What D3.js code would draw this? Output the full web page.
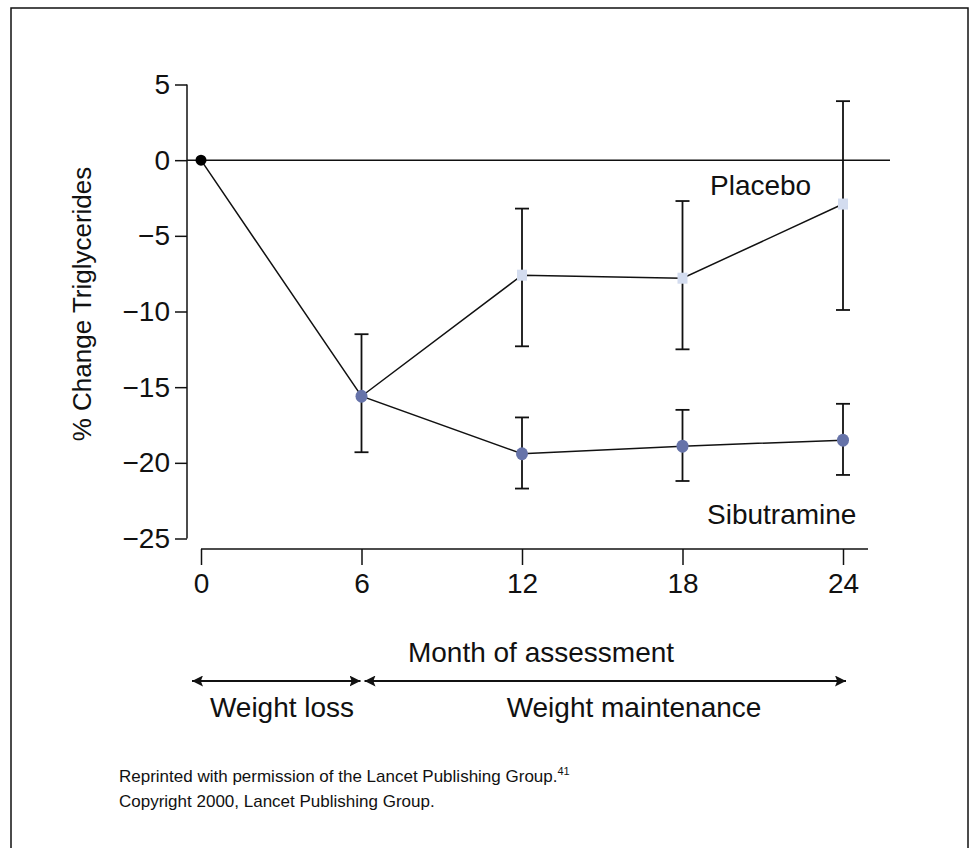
<!DOCTYPE html>
<html>
<head>
<meta charset="utf-8">
<script src="https://cdn.jsdelivr.net/npm/d3@7"></script>
<style>
  body { margin: 0; background: #fff; }
  text { font-family: "Liberation Sans", Arial, sans-serif; fill: #111; }
</style>
</head>
<body>
<svg id="chart"></svg>
<script>
// values
var monthTicks = [0, 6, 12, 18, 24];
var yTicks = [5, 0, -5, -10, -15, -20, -25];

var sibMonths = [0, 6, 12, 18, 24];
var sibMean = [0, -15.6, -19.4, -18.9, -18.5];
var sibLow = [null, -19.3, -21.7, -21.2, -20.8];
var sibHigh = [null, -11.5, -17.0, -16.5, -16.1];

var placeboMonths = [6, 12, 18, 24];
var placeboMean = [-15.6, -7.6, -7.8, -2.9];
var placeboLow = [null, -12.3, -12.5, -9.9];
var placeboHigh = [null, -3.2, -2.7, 3.9];

var phaseNames = ["Weight loss", "Weight maintenance"];
var phaseStart = [0, 6];
var phaseEnd = [6, 24];

var svg = d3.select("#chart")
    .attr("width", 971)
    .attr("height", 848);

// outer frame
svg.append("rect")
    .attr("x", 11).attr("y", 8)
    .attr("width", 957).attr("height", 860)
    .attr("fill", "none")
    .attr("stroke", "#111")
    .attr("stroke-width", 1.5);

var x = d3.scaleLinear().domain([0, 24]).range([201, 843]);
var y = d3.scaleLinear().domain([-25, 5]).range([538.5, 84.5]);

// y axis
var yAxis = svg.append("g")
    .attr("transform", "translate(187,0)")
    .call(d3.axisLeft(y).tickValues(yTicks).tickSize(12).tickPadding(5)
        .tickFormat(function (d) { return d < 0 ? "\u2212" + Math.abs(d) : d; }));
yAxis.select(".domain").attr("d", "M0," + y(5) + "V" + y(-25)).attr("stroke", "#111").attr("stroke-width", 1.5);
yAxis.selectAll(".tick line").attr("stroke", "#111").attr("stroke-width", 1.5);
yAxis.selectAll(".tick text").attr("font-size", 28).attr("font-family", null).attr("fill", "#111");

// x axis
var xAxis = svg.append("g")
    .attr("transform", "translate(0,549)")
    .call(d3.axisBottom(x).tickValues(monthTicks).tickSize(16).tickPadding(8));
xAxis.select(".domain").attr("d", "M" + x(0) + ",0H868").attr("stroke", "#111").attr("stroke-width", 1.5);
xAxis.selectAll(".tick line").attr("stroke", "#111").attr("stroke-width", 1.5);
xAxis.selectAll(".tick text").attr("font-size", 28).attr("font-family", null).attr("fill", "#111");

// zero line
svg.append("line")
    .attr("x1", 187).attr("x2", 890)
    .attr("y1", y(0)).attr("y2", y(0))
    .attr("stroke", "#111").attr("stroke-width", 1.5);

// axis titles
svg.append("text")
    .attr("transform", "translate(91,304) rotate(-90)")
    .attr("text-anchor", "middle")
    .attr("font-size", 26)
    .text("% Change Triglycerides");

svg.append("text")
    .attr("x", 541)
    .attr("y", 662)
    .attr("text-anchor", "middle")
    .attr("font-size", 28)
    .text("Month of assessment");

var sib = sibMonths.map(function (m, i) { return { m: m, v: sibMean[i], lo: sibLow[i], hi: sibHigh[i] }; });
var pla = placeboMonths.map(function (m, i) { return { m: m, v: placeboMean[i], lo: placeboLow[i], hi: placeboHigh[i] }; });

var line = d3.line()
    .x(function (d) { return x(d.m); })
    .y(function (d) { return y(d.v); });

svg.append("path").datum(sib)
    .attr("d", line).attr("fill", "none").attr("stroke", "#111").attr("stroke-width", 1.5);
svg.append("path").datum(pla)
    .attr("d", line).attr("fill", "none").attr("stroke", "#111").attr("stroke-width", 1.5);

// error bars
var bars = sib.concat(pla).filter(function (d) { return d.lo !== null; });
var eb = svg.append("g").attr("stroke", "#111").attr("stroke-width", 1.8);
eb.selectAll(".stem").data(bars).enter().append("line")
    .attr("x1", function (d) { return x(d.m); })
    .attr("x2", function (d) { return x(d.m); })
    .attr("y1", function (d) { return y(d.lo); })
    .attr("y2", function (d) { return y(d.hi); });
eb.selectAll(".capLo").data(bars).enter().append("line")
    .attr("x1", function (d) { return x(d.m) - 7; })
    .attr("x2", function (d) { return x(d.m) + 7; })
    .attr("y1", function (d) { return y(d.lo); })
    .attr("y2", function (d) { return y(d.lo); });
eb.selectAll(".capHi").data(bars).enter().append("line")
    .attr("x1", function (d) { return x(d.m) - 7; })
    .attr("x2", function (d) { return x(d.m) + 7; })
    .attr("y1", function (d) { return y(d.hi); })
    .attr("y2", function (d) { return y(d.hi); });

// markers
svg.selectAll(".pla").data(pla.slice(1)).enter().append("rect")
    .attr("x", function (d) { return x(d.m) - 5; })
    .attr("y", function (d) { return y(d.v) - 5.5; })
    .attr("width", 10).attr("height", 11)
    .attr("fill", "#d3dcef");

svg.selectAll(".sib").data(sib.slice(1)).enter().append("ellipse")
    .attr("cx", function (d) { return x(d.m); })
    .attr("cy", function (d) { return y(d.v); })
    .attr("rx", 6).attr("ry", 6.5)
    .attr("fill", "#6673a9");

svg.append("circle")
    .attr("cx", x(sib[0].m)).attr("cy", y(sib[0].v))
    .attr("r", 5.5).attr("fill", "#000");

// series labels
svg.append("text").attr("x", 710).attr("y", 195).attr("font-size", 28).text("Placebo");
svg.append("text").attr("x", 707).attr("y", 524).attr("font-size", 28).text("Sibutramine");

// phase arrows
var defs = svg.append("defs");
defs.append("marker").attr("id", "ah")
    .attr("viewBox", "0 0 10 10").attr("refX", 10).attr("refY", 5)
    .attr("markerWidth", 11).attr("markerHeight", 11)
    .attr("markerUnits", "userSpaceOnUse")
    .attr("orient", "auto-start-reverse")
    .append("path").attr("d", "M0,0L10,5L0,10L2,5Z").attr("fill", "#111");

var labelX = [282, 634];
phaseNames.forEach(function (name, i) {
    var x1 = x(phaseStart[i]) + (i === 0 ? -9 : 3);
    var x2 = x(phaseEnd[i]) + (i === 0 ? -1 : 3);
    svg.append("line")
        .attr("x1", x1).attr("x2", x2)
        .attr("y1", 681).attr("y2", 681)
        .attr("stroke", "#111").attr("stroke-width", 1.8)
        .attr("marker-start", "url(#ah)").attr("marker-end", "url(#ah)");
    svg.append("text")
        .attr("x", labelX[i])
        .attr("y", 717)
        .attr("text-anchor", "middle")
        .attr("font-size", 28)
        .text(name);
});

// source note
var note = svg.append("text").attr("x", 119).attr("y", 782).attr("font-size", 17);
note.append("tspan").text("Reprinted with permission of the Lancet Publishing Group.");
note.append("tspan").attr("font-size", 11).attr("dy", -7).text("41");
svg.append("text").attr("x", 119).attr("y", 807).attr("font-size", 17)
    .text("Copyright 2000, Lancet Publishing Group.");
</script>
</body>
</html>
